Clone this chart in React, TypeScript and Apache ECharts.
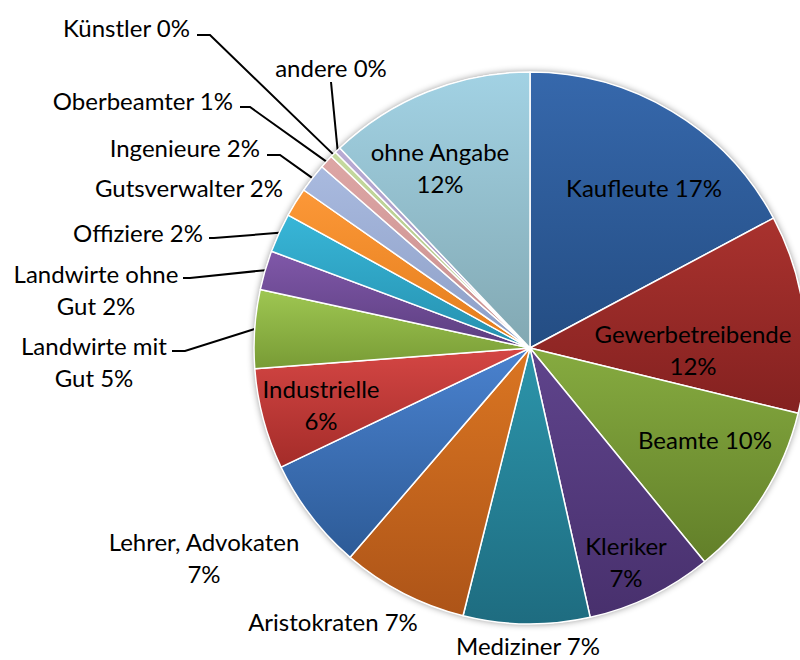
import React, { useEffect, useRef } from "react";
import * as echarts from "echarts";

// ---- data ----
const categories = [
  "Kaufleute",
  "Gewerbetreibende",
  "Beamte",
  "Kleriker",
  "Mediziner",
  "Aristokraten",
  "Lehrer, Advokaten",
  "Industrielle",
  "Landwirte mit Gut",
  "Landwirte ohne Gut",
  "Offiziere",
  "Gutsverwalter",
  "Ingenieure",
  "Oberbeamter",
  "Künstler",
  "andere",
  "ohne Angabe",
];
const shares = [17.2, 11.6, 10.3, 7.4, 7.4, 7.4, 6.6, 5.9, 4.6, 2.3, 2.3, 1.7, 1.7, 0.8, 0.35, 0.35, 12.1];

// ---- styles ----
const topColors = [
  "#3668ac", "#a9322e", "#86ab40", "#5f448c", "#2c95ab", "#db7622", "#4a82cf", "#d44644",
  "#9fc752", "#8058a9", "#38b6d8", "#fc9838", "#a9badf", "#dda6a5", "#c6da9f", "#b9abd3", "#a2d2e4",
];
const bottomColors = [
  "#244d83", "#842120", "#627f29", "#48306d", "#1e6c80", "#ad5418", "#2d5b97", "#a42c29",
  "#789b35", "#5c3e80", "#2590ae", "#e37c1a", "#8c9ec6", "#c88e8d", "#a9c07f", "#9c8dbb", "#82a8b2",
];

type Spot = {
  x: number;
  y: number;
  align?: "left" | "center" | "right";
  wrap?: string;
  breakPct?: boolean;
  inside?: boolean;
  line?: number[][];
  noLine?: boolean;
  lineHeight?: number;
};

const spots: Spot[] = [
  { x: 644, y: 187, inside: true },
  { x: 693, y: 349, inside: true, breakPct: true },
  { x: 705, y: 439, inside: true },
  { x: 626, y: 561, inside: true, breakPct: true },
  { x: 528, y: 645, noLine: true, lineHeight: 27 },
  { x: 333, y: 621, noLine: true },
  { x: 204, y: 557, breakPct: true, noLine: true },
  { x: 321, y: 404, inside: true, breakPct: true },
  { x: 94, y: 361, wrap: "Landwirte mit\nGut", line: [[185, 351], [172, 351]] },
  { x: 96, y: 289, wrap: "Landwirte ohne\nGut", line: [[190, 278], [183, 278]] },
  { x: 203, y: 232, align: "right", line: [[214, 238], [209, 238]] },
  { x: 283, y: 187, align: "right", noLine: true },
  { x: 260, y: 147, align: "right", line: [[280, 155], [267, 155]] },
  { x: 233, y: 100, align: "right", line: [[250, 107], [240, 107]] },
  { x: 190, y: 27, align: "right", line: [[210, 35], [197, 35]] },
  { x: 331, y: 67, line: [[331, 82]] },
  { x: 440, y: 167, inside: true, breakPct: true },
];

const CENTER = [530, 348];
const RADIUS = 276;
const FONT = "Lato";

export default function App() {
  const ref = useRef<HTMLDivElement>(null);

  useEffect(() => {
    if (!ref.current) return;
    const chart = echarts.init(ref.current, undefined, { renderer: "svg" });
    const total = shares.reduce((a, b) => a + b, 0);

    const data = categories.map((name, i) => {
      const s = spots[i];
      const label: any = { position: s.inside ? "inside" : "outside" };
      if (s.lineHeight) label.lineHeight = s.lineHeight;
      return {
        name,
        value: shares[i],
        itemStyle: {
          color: {
            type: "linear",
            x: 0,
            y: 0,
            x2: 0,
            y2: 1,
            colorStops: [
              { offset: 0, color: topColors[i] },
              { offset: 1, color: bottomColors[i] },
            ],
          },
        },
        label,
        labelLine: { show: !s.inside && !s.noLine },
      };
    });

    const option: any = {
      animation: false,
      backgroundColor: "#ffffff",
      series: [
        {
          type: "pie",
          silent: true,
          center: CENTER,
          radius: RADIUS,
          z: 1,
          label: { show: false },
          labelLine: { show: false },
          itemStyle: {
            color: "#ffffff",
            shadowBlur: 7,
            shadowColor: "rgba(0,0,0,0.45)",
          },
          data: [{ name: "", value: total }],
        },
        {
          type: "pie",
          z: 2,
          center: CENTER,
          radius: RADIUS,
          startAngle: 90,
          clockwise: true,
          avoidLabelOverlap: false,
          itemStyle: { borderColor: "#ffffff", borderWidth: 1.5 },
          label: {
            show: true,
            color: "#000000",
            fontFamily: FONT,
            fontSize: 24,
            lineHeight: 32,
            align: "center",
            formatter: (p: any) => {
              const s = spots[p.dataIndex];
              const nm = s.wrap ?? p.name;
              const pct = Math.round(p.percent) + "%";
              return nm + (s.breakPct ? "\n" : " ") + pct;
            },
          },
          labelLine: {
            lineStyle: { color: "#000000", width: 2 },
            length: 15,
            length2: 10,
          },
          labelLayout: (params: any) => {
            const i = params.dataIndex;
            const s = spots[i];
            const out: any = {
              x: s.x,
              y: s.y,
              align: s.align ?? "center",
              verticalAlign: "middle",
            };
            if (s.line) {
              let p0 = params.labelLinePoints && params.labelLinePoints[0];
              if (!p0) {
                let before = 0;
                for (let k = 0; k < i; k++) before += shares[k];
                const mid = ((before + shares[i] / 2) / total) * Math.PI * 2;
                p0 = [CENTER[0] + RADIUS * Math.sin(mid), CENTER[1] - RADIUS * Math.cos(mid)];
              }
              out.labelLinePoints = [p0, ...s.line];
            }
            return out;
          },
          data,
        },
      ],
    };
    chart.setOption(option);
    return () => chart.dispose();
  }, []);

  return (
    <div
      ref={ref}
      style={{ position: "fixed", left: 0, top: 0, width: 800, height: 660 }}
    />
  );
}
